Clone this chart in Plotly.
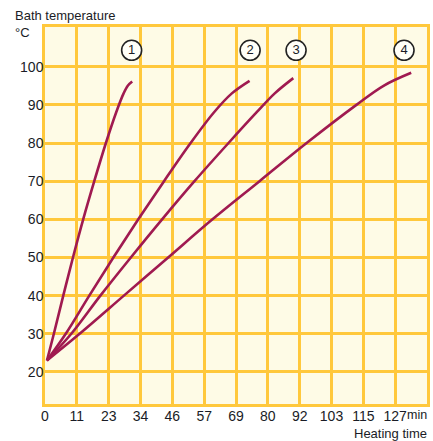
import plotly.graph_objects as go

# ---- data ----
t1 = [0.7, 3.2, 6.6, 10.1, 13.8, 17.8, 22.0, 25.7, 28.4, 29.9, 31.5]
T1 = [23.0, 30, 40, 50, 60, 70, 80, 88, 93.0, 95.0, 96.1]
t2 = [0.7, 7.5, 16.0, 24.7, 33.7, 43.0, 52.6, 61.0, 67.5, 73.9]
T2 = [23.0, 30, 40, 50, 60, 70, 80, 88, 93.0, 96.3]
t3 = [0.7, 9.5, 20.0, 31.0, 42.3, 54.0, 66.3, 76.4, 83.0, 89.7]
T3 = [23.0, 30, 40, 50, 60, 70, 80, 88, 93.0, 97.0]
t4 = [0.7, 12.5, 28.5, 44.5, 60.5, 77.5, 94.5, 112.5, 122.3, 132.3]
T4 = [23.0, 30, 40, 50, 60, 70, 80, 90, 95.0, 98.4]

curve_labels = ["1", "2", "3", "4"]
label_t = [31.3, 74.1, 90.7, 129.7]
label_T = [104.3, 104.3, 104.3, 104.3]

x_tickvals = [0, 11.5, 23, 34.5, 46, 57.5, 69, 80.5, 92, 103.5, 115, 126.5]
x_ticktext = ["0", "11", "23", "34", "46", "57", "69", "80", "92", "103", "115", "127"]
y_tickvals = [20, 30, 40, 50, 60, 70, 80, 90, 100]

LINE = "#A01A50"
GRID = "#FFC83C"
BG = "#FEFBE6"
TXT = "#1A1C26"
FONT = "Liberation Sans, Arial, sans-serif"

fig = go.Figure()
for t, T in [(t1, T1), (t2, T2), (t3, T3), (t4, T4)]:
    fig.add_trace(go.Scatter(x=t, y=T, mode="lines",
                             line=dict(color=LINE, width=2.6, shape="spline", smoothing=1.0),
                             hoverinfo="skip", showlegend=False))

fig.add_trace(go.Scatter(x=label_t, y=label_T, mode="markers+text",
                         text=curve_labels, textposition="middle center",
                         textfont=dict(family=FONT, size=13, color=TXT),
                         marker=dict(symbol="circle", size=20, color="#FFFFF8",
                                     line=dict(color="#222222", width=1.6)),
                         hoverinfo="skip", showlegend=False))

fig.update_layout(
    width=433, height=441,
    margin=dict(l=45, r=3, t=27, b=37),
    paper_bgcolor="white", plot_bgcolor=BG,
    font=dict(family=FONT, size=14, color=TXT),
    xaxis=dict(range=[0, 138], tickvals=x_tickvals, ticktext=x_ticktext,
               showgrid=True, gridcolor=GRID, gridwidth=2.5, zeroline=False,
               showline=True, linecolor=GRID, linewidth=2.5, mirror=True,
               ticks="", ticklabelstandoff=-3, fixedrange=True),
    yaxis=dict(range=[11.6, 110.4], tickvals=y_tickvals,
               showgrid=True, gridcolor=GRID, gridwidth=2.5, zeroline=False,
               showline=True, linecolor=GRID, linewidth=2.5, mirror=True,
               ticks="", ticklabelstandoff=-4, fixedrange=True),
    annotations=[
        dict(text="Bath temperature", xref="paper", yref="paper", x=-32/385, y=1 + 12/377,
             xanchor="left", yanchor="middle", showarrow=False,
             font=dict(family=FONT, size=13, color=TXT)),
        dict(text="°C", xref="paper", yref="paper", x=-32/385, y=1 - 5/377,
             xanchor="left", yanchor="middle", showarrow=False,
             font=dict(family=FONT, size=13, color=TXT)),
        dict(text="min", xref="paper", yref="paper", x=1 + 2/385, y=-11/377,
             xanchor="right", yanchor="middle", showarrow=False,
             font=dict(family=FONT, size=12.5, color=TXT)),
        dict(text="Heating time", xref="paper", yref="paper", x=1 + 2/385, y=-29/377,
             xanchor="right", yanchor="middle", showarrow=False,
             font=dict(family=FONT, size=13, color=TXT)),
    ],
)

fig.write_html("out.html", config={"displayModeBar": False},
               post_script="document.body.style.margin='0px';")
